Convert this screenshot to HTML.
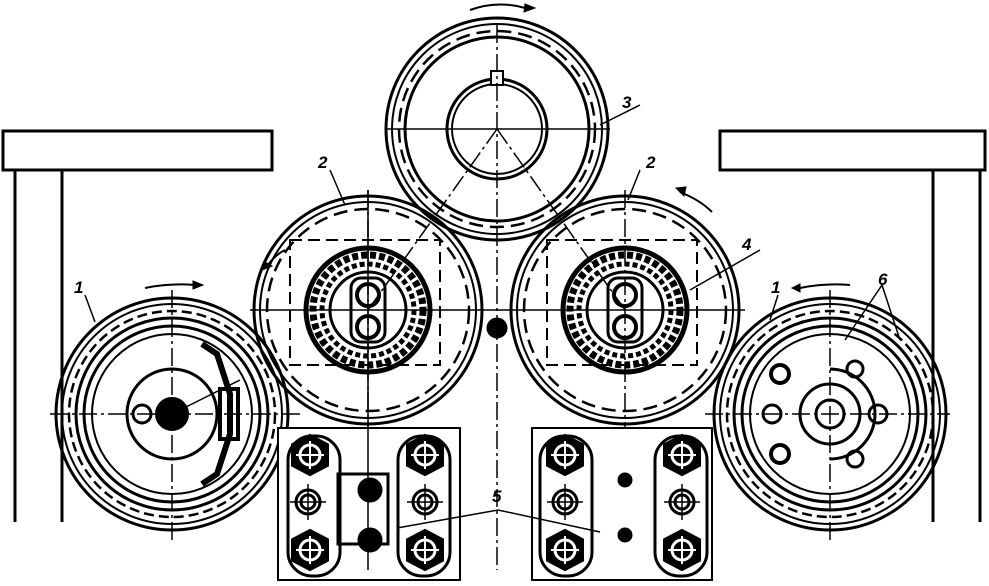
<!DOCTYPE html>
<html><head><meta charset="utf-8"><style>
html,body{margin:0;padding:0;background:#fff;}
svg{display:block;}
text{font-family:"Liberation Sans",sans-serif;font-style:italic;font-weight:bold;font-size:17px;}
</style></head><body>
<svg width="989" height="586" viewBox="0 0 989 586" xmlns="http://www.w3.org/2000/svg" fill="none" stroke="#000">
<defs>
<g id="roll1">
  <circle r="116" stroke-width="3"/>
  <circle r="110" stroke-width="2"/>
  <circle r="103" stroke-width="2.5" stroke-dasharray="10 5"/>
  <circle r="96" stroke-width="3"/>
  <circle r="88" stroke-width="3"/>
  <circle r="80" stroke-width="2"/>
</g>
<g id="roll2">
  <circle r="114" stroke-width="3"/>
  <circle r="108" stroke-width="2"/>
  <circle r="101" stroke-width="2.5" stroke-dasharray="14 7"/>
  <rect x="-78" y="-70" width="150" height="125" stroke-width="2" stroke-dasharray="12 6"/>
  <circle r="62" stroke-width="5"/>
  <circle r="55" stroke-width="7" stroke-dasharray="6 3"/>
  <circle r="46" stroke-width="5" stroke-dasharray="5 3"/>
  <circle r="38" stroke-width="3"/>
  <rect x="-17" y="-32" width="34" height="64" rx="10" stroke-width="3"/>
  <circle cy="-15" r="11" stroke-width="4"/>
  <circle cy="17" r="11" stroke-width="4"/>
</g>
<g id="nut">
  <polygon points="0,-19 17,-10 17,10 0,19 -17,10 -17,-10" stroke-width="4" fill="#000"/>
  <circle r="10" stroke-width="3" stroke="#fff"/>
  <path d="M-14 0H14M0 -14V14" stroke="#fff" stroke-width="2"/>
</g>
<g id="wash">
  <circle r="12" stroke-width="3"/><circle r="7" stroke-width="3"/>
  <path d="M-18 0H18M0 -18V18" stroke-width="1.5"/>
</g>
</defs>

<!-- tables -->
<rect x="3" y="131" width="269" height="39" stroke-width="3"/>
<path d="M15 170V522M62 170V522" stroke-width="3"/>
<rect x="720" y="131" width="265" height="39" stroke-width="3"/>
<path d="M933 170V522M980 170V522" stroke-width="3"/>

<!-- top roll 3 -->
<g transform="translate(497,129)">
  <circle r="111" stroke-width="3"/>
  <circle r="105" stroke-width="2"/>
  <circle r="98" stroke-width="2.5" stroke-dasharray="14 7"/>
  <circle r="92" stroke-width="3"/>
  <circle r="50" stroke-width="3"/>
  <circle r="45" stroke-width="2"/>
  <rect x="-6" y="-58" width="12" height="14" stroke-width="2" fill="#fff"/>
</g>
<path d="M385 129H610" stroke-width="1.5"/>
<path d="M497 25V570" stroke-width="1.5" stroke-dasharray="18 4 3 4"/>
<path d="M497 129L368 310M497 129L625 310" stroke-width="1.5" stroke-dasharray="18 4 3 4"/>
<path d="M470 10 Q497 0 525 8" stroke-width="2"/><polygon points="525,4 535,8 524,12" fill="#000"/>

<!-- rolls 2 -->
<g transform="translate(368,310)"><use href="#roll2"/></g>
<g transform="translate(625,310)"><use href="#roll2"/></g>
<path d="M250 310H745" stroke-width="1.5"/>
<path d="M368 190V570M625 190V580" stroke-width="1.5" stroke-dasharray="18 4 3 4"/>
<circle cx="497" cy="328" r="10" fill="#000"/>
<path d="M285 250 Q275 255 268 265" stroke-width="2"/><polygon points="265,262 262,270 272,266" fill="#000"/>
<path d="M680 192 Q700 200 712 212" stroke-width="2"/><polygon points="676,188 684,196 686,187" fill="#000"/>

<!-- rolls 1 -->
<g transform="translate(172,414)"><use href="#roll1"/>
  <circle r="45" stroke-width="3"/>
  <circle r="15" stroke-width="4" fill="#000"/>
  <circle cx="-30" r="9" stroke-width="3"/>
  <path d="M30 -70 L45 -60 L58 -20 L58 20 L45 60 L30 70" stroke-width="6"/>
  <rect x="48" y="-25" width="18" height="50" stroke-width="4"/>
</g>
<path d="M50 414H300" stroke-width="1.5" stroke-dasharray="18 4 3 4"/>
<path d="M172 290V540" stroke-width="1.5" stroke-dasharray="18 4 3 4"/>
<path d="M172 414L240 380" stroke-width="1.5"/>
<path d="M145 288Q170 283 195 285" stroke-width="2"/><polygon points="193,281 203,285 193,289" fill="#000"/>

<g transform="translate(830,414)"><use href="#roll1"/>
  <circle r="30" stroke-width="3"/>
  <circle r="14" stroke-width="3"/>
  <path d="M0 -45 A45 45 0 0 1 0 45" stroke-width="3"/>
  <circle cx="-58" r="9" stroke-width="3"/><circle cx="48" r="9" stroke-width="3"/>
  <circle cx="-50" cy="-40" r="9" stroke-width="4"/><circle cx="-50" cy="40" r="9" stroke-width="4"/>
  <circle cx="25" cy="-45" r="8" stroke-width="3"/><circle cx="25" cy="45" r="8" stroke-width="3"/>
</g>
<path d="M705 414H950" stroke-width="1.5" stroke-dasharray="18 4 3 4"/>
<path d="M830 290V540" stroke-width="1.5" stroke-dasharray="18 4 3 4"/>
<path d="M800 288Q825 283 850 285" stroke-width="2"/><polygon points="800,284 792,288 800,292" fill="#000"/>

<!-- bottom brackets -->
<rect x="278" y="428" width="182" height="152" stroke-width="2" fill="#fff"/>
<rect x="532" y="428" width="180" height="152" stroke-width="2" fill="#fff"/>
<rect x="288" y="436" width="52" height="140" rx="24" stroke-width="3"/>
<rect x="398" y="436" width="52" height="140" rx="24" stroke-width="3"/>
<rect x="540" y="436" width="52" height="140" rx="24" stroke-width="3"/>
<rect x="655" y="436" width="52" height="140" rx="24" stroke-width="3"/>
<rect x="338" y="474" width="50" height="70" stroke-width="3"/>
<path d="M368 190V570" stroke-width="1.5"/>
<g transform="translate(310,455)"><use href="#nut"/></g>
<g transform="translate(310,550)"><use href="#nut"/></g>
<g transform="translate(425,455)"><use href="#nut"/></g>
<g transform="translate(425,550)"><use href="#nut"/></g>
<g transform="translate(565,455)"><use href="#nut"/></g>
<g transform="translate(565,550)"><use href="#nut"/></g>
<g transform="translate(682,455)"><use href="#nut"/></g>
<g transform="translate(682,550)"><use href="#nut"/></g>
<circle cx="370" cy="490" r="12" fill="#000"/><circle cx="370" cy="540" r="12" fill="#000"/>
<circle cx="625" cy="480" r="7" fill="#000"/><circle cx="625" cy="535" r="7" fill="#000"/>
<g transform="translate(308,502)"><use href="#wash"/></g>
<g transform="translate(425,502)"><use href="#wash"/></g>
<g transform="translate(565,502)"><use href="#wash"/></g>
<g transform="translate(682,502)"><use href="#wash"/></g>

<!-- leaders -->
<path d="M397 528L498 510L600 532" stroke-width="1.5"/>
<path d="M85 295L95 322" stroke-width="1.5"/>
<path d="M640 105L600 125" stroke-width="1.5"/>
<path d="M330 170L345 205" stroke-width="1.5"/>
<path d="M640 170L628 200" stroke-width="1.5"/>
<path d="M760 250L690 290" stroke-width="1.5"/>
<path d="M778 295L770 320" stroke-width="1.5"/>
<path d="M882 285L845 340M882 285L900 340" stroke-width="1.5"/>

<g fill="#000" stroke="none">
<text x="74" y="293">1</text>
<text x="622" y="108">3</text>
<text x="318" y="168">2</text>
<text x="646" y="168">2</text>
<text x="742" y="250">4</text>
<text x="771" y="293">1</text>
<text x="878" y="285">6</text>
<text x="492" y="502">5</text>
</g>
</svg>
</body></html>
